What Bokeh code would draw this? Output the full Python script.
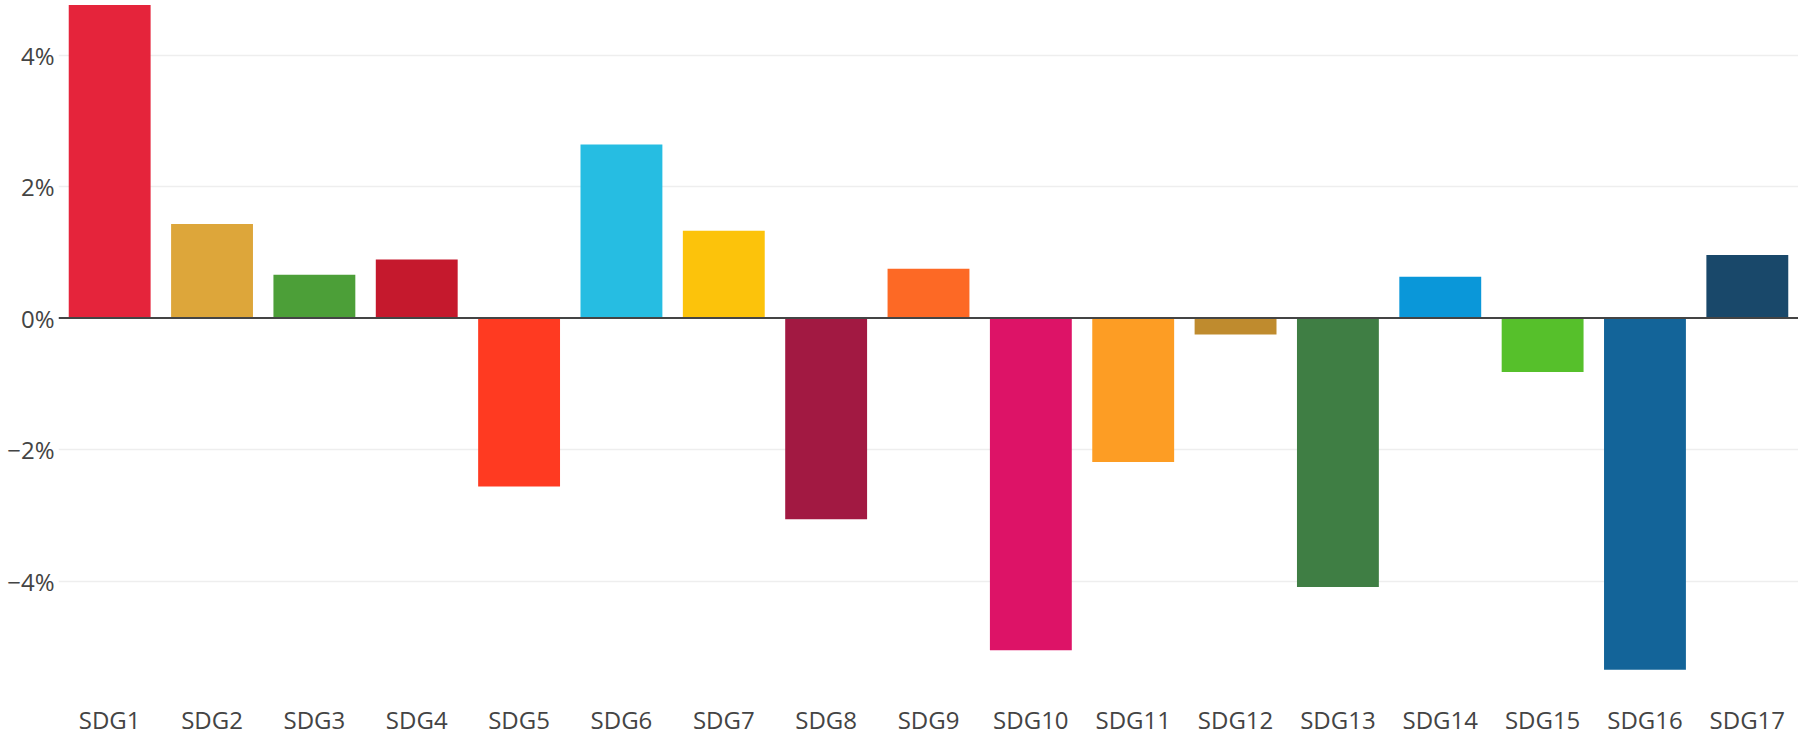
from bokeh.plotting import figure
from bokeh.models import ColumnDataSource, FixedTicker, Span
from bokeh.embed import file_html
from bokeh.resources import INLINE

categories = ["SDG1", "SDG2", "SDG3", "SDG4", "SDG5", "SDG6", "SDG7", "SDG8", "SDG9",
              "SDG10", "SDG11", "SDG12", "SDG13", "SDG14", "SDG15", "SDG16", "SDG17"]
values = [4.76, 1.43, 0.66, 0.89, -2.56, 2.64, 1.33, -3.06, 0.75,
          -5.05, -2.19, -0.25, -4.09, 0.63, -0.82, -5.35, 0.96]
colors = ["#E5243B", "#DDA63A", "#4C9F38", "#C5192D", "#FF3A21", "#26BDE2", "#FCC30B",
          "#A21942", "#FD6925", "#DD1367", "#FD9D24", "#BF8B2E", "#3F7E44", "#0A97D9",
          "#56C02B", "#136499", "#19486A"]
y_ticks = [-4, -2, 0, 2, 4]
y_tick_labels = ["\u22124%", "\u22122%", "0%", "2%", "4%"]

src = ColumnDataSource(dict(cat=categories, val=values, color=colors))

p = figure(x_range=categories, y_range=(-5.74, 4.83), width=1798, height=738,
           output_backend="svg", toolbar_location=None,
           min_border_left=58, min_border_right=0, min_border_top=0, min_border_bottom=37)
p.outline_line_color = None
p.background_fill_color = "white"

p.vbar(x="cat", top="val", bottom=0, width=0.8, fill_color="color", line_color=None, source=src)

zero = Span(location=0, dimension="width", line_color="#444444", line_width=2)
p.add_layout(zero)

font = "Open Sans"
p.yaxis.ticker = FixedTicker(ticks=y_ticks)
p.yaxis.major_label_overrides = {t: l for t, l in zip(y_ticks, y_tick_labels)}
p.yaxis.axis_line_color = None
p.yaxis.major_tick_line_color = None
p.yaxis.minor_tick_line_color = None
p.yaxis.major_tick_out = 0
p.yaxis.major_tick_in = 0
p.yaxis.major_label_standoff = 4
p.yaxis.major_label_text_font = font
p.yaxis.major_label_text_font_size = "24px"
p.yaxis.major_label_text_color = "#444444"

p.xaxis.axis_line_color = None
p.xaxis.major_tick_line_color = None
p.xaxis.minor_tick_line_color = None
p.xaxis.major_tick_out = 0
p.xaxis.major_tick_in = 0
p.xaxis.major_label_standoff = 7
p.xaxis.major_label_text_font = font
p.xaxis.major_label_text_font_size = "24px"
p.xaxis.major_label_text_color = "#444444"

p.xgrid.grid_line_color = None
p.ygrid.ticker = FixedTicker(ticks=[-4, -2, 2, 4])
p.ygrid.grid_line_color = "#eeeeee"
p.ygrid.grid_line_width = 1.5

open("out.html", "w").write(file_html(p, INLINE))
